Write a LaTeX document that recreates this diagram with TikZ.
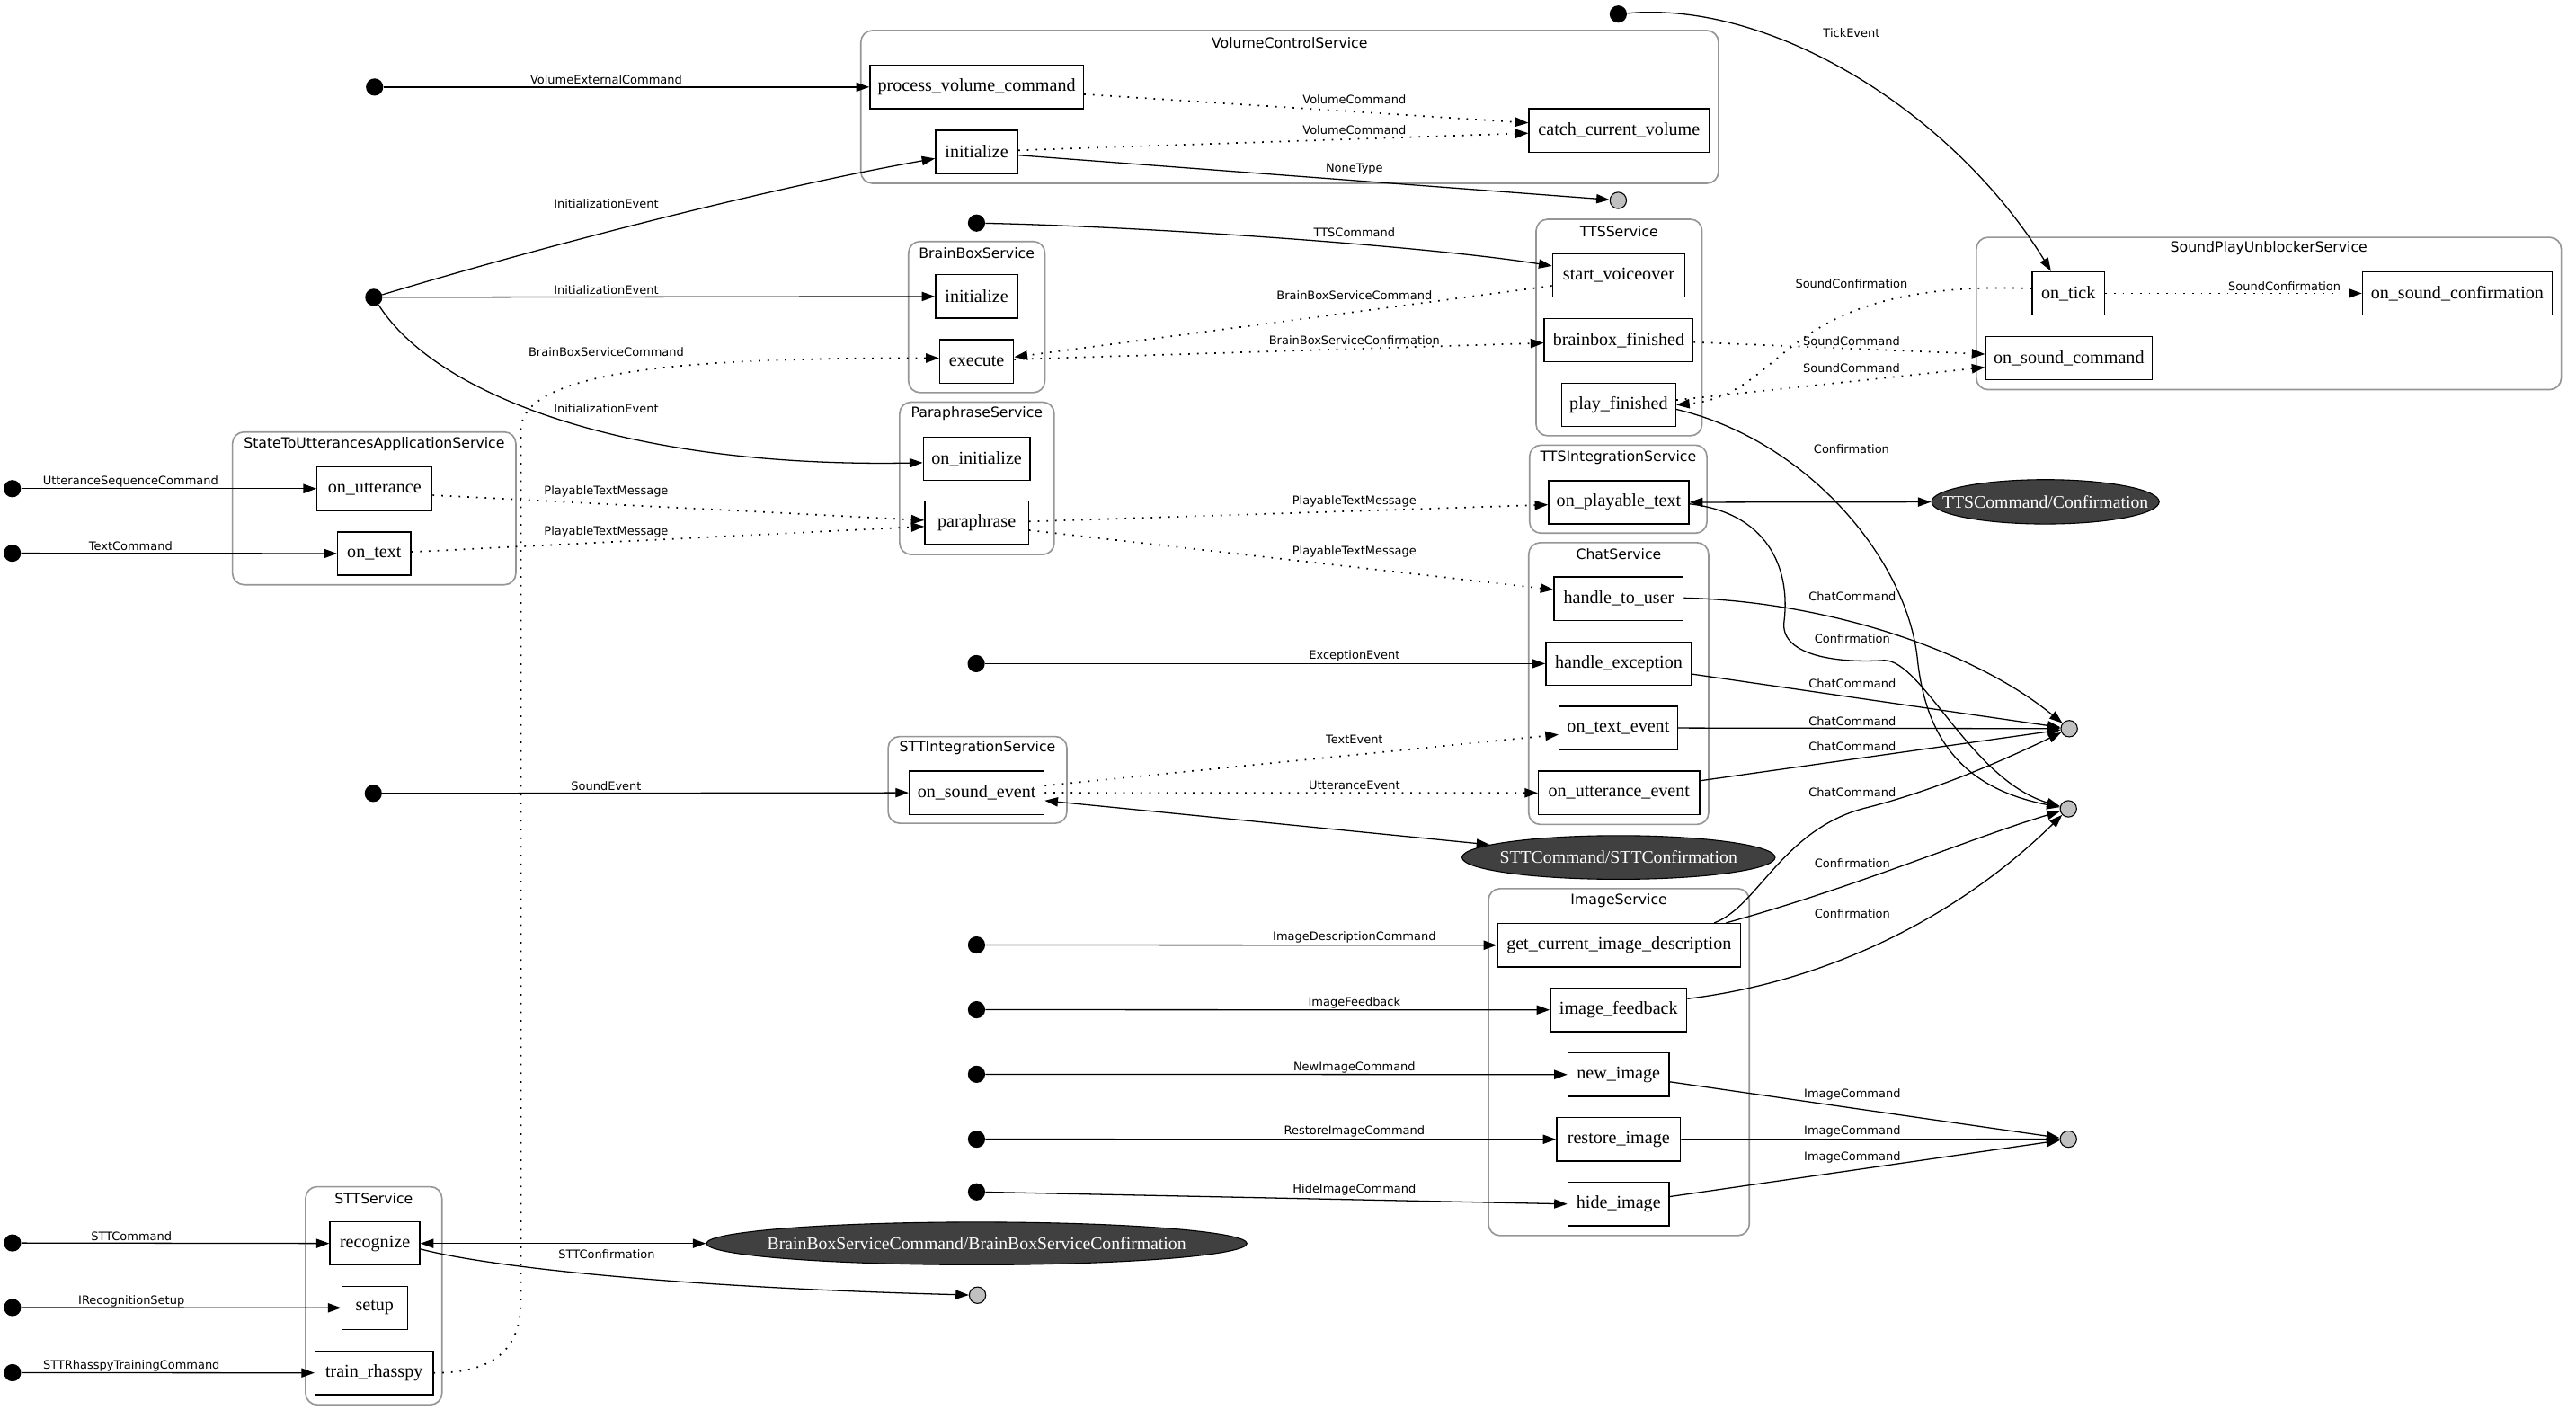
\documentclass[tikz,border=0pt]{standalone}
\usepackage{fontspec}
\usetikzlibrary{arrows.meta,shapes.geometric,calc}
\newfontfamily\LSerif{Liberation Serif}
\newfontfamily\DVS{DejaVu Sans}
\definecolor{clgray}{RGB}{150,150,150}
\definecolor{sinkgray}{RGB}{192,192,192}
\definecolor{ellfill}{RGB}{64,64,64}
\tikzset{
  fn/.style={draw, line width=0.75pt, rectangle, minimum height=26.4pt, inner sep=0pt, font=\LSerif\fontsize{11}{13}\selectfont},
  ell/.style={ellipse, draw=black, line width=0.6pt, fill=ellfill, text=white, inner sep=0pt, font=\LSerif\fontsize{10.8}{13}\selectfont},
  src/.style={circle, fill=black, inner sep=0pt, minimum size=10.5pt},
  sink/.style={circle, draw=black, fill=sinkgray, line width=0.6pt, inner sep=0pt, minimum size=10pt},
  lbl/.style={inner sep=0pt, font=\DVS\fontsize{7.1}{8}\selectfont},
  ctitle/.style={inner sep=0pt, font=\DVS\fontsize{8.6}{10}\selectfont},
  cluster/.style={draw=clgray, line width=0.9pt, rounded corners=7pt},
  arr/.style={-{Triangle[length=8pt,width=5.6pt]}, line width=0.7pt},
  dotarr/.style={arr, line width=0.95pt, dash pattern=on 0.95pt off 4.35pt},
  dbl/.style={{Triangle[length=8pt,width=5.6pt]}-{Triangle[length=8pt,width=5.6pt]}, line width=0.7pt},
}
\begin{document}
\begin{tikzpicture}[x=1pt,y=-1pt]
\useasboundingbox (0,0) rectangle (1568,863.8);
\fill[white] (0,0) rectangle (1568,863.8);
% clusters
\draw[cluster] (524,18.6) rectangle (1046,111.6);
\node[ctitle] (tVC) at (785,26) {VolumeControlService};
\draw[cluster] (553,147) rectangle (636,239);
\node[ctitle] (tBB) at (594.5,154) {BrainBoxService};
\draw[cluster] (547.6,244.8) rectangle (641.7,337.6);
\node[ctitle] (tPS) at (594.6,252) {ParaphraseService};
\draw[cluster] (935,133.5) rectangle (1036,265.3);
\node[ctitle] (tTTS) at (985.5,141) {TTSService};
\draw[cluster] (931,271) rectangle (1039,324.6);
\node[ctitle] (tTI) at (985,278.5) {TTSIntegrationService};
\draw[cluster] (930.5,330.4) rectangle (1040,501.9);
\node[ctitle] (tCS) at (985.3,337.5) {ChatService};
\draw[cluster] (540.6,448.4) rectangle (649.4,501.2);
\node[ctitle] (tSI) at (595,455.5) {STTIntegrationService};
\draw[cluster] (141.5,263) rectangle (314,356);
\node[ctitle] (tSU) at (227.8,270.2) {StateToUtterancesApplicationService};
\draw[cluster] (906,541) rectangle (1064.8,752.2);
\node[ctitle] (tIS) at (985.4,548.2) {ImageService};
\draw[cluster] (186,722.5) rectangle (269,855.2);
\node[ctitle] (tSS) at (227.5,729.6) {STTService};
\draw[cluster] (1203,144.5) rectangle (1559,237.2);
\node[ctitle] (tSP) at (1381,151.3) {SoundPlayUnblockerService};
% function nodes
\node[fn, minimum width=130pt] (pvc) at (594.5,53) {process\_volume\_command};
\node[fn, minimum width=50pt] (vinit) at (594.5,92.5) {initialize};
\node[fn, minimum width=109.6pt] (ccv) at (985.5,79.4) {catch\_current\_volume};
\node[fn, minimum width=50pt] (bbinit) at (594.5,180.5) {initialize};
\node[fn, minimum width=45pt] (exec) at (594.5,220) {execute};
\node[fn, minimum width=65pt] (oninit) at (594.5,279.2) {on\_initialize};
\node[fn, minimum width=63pt] (para) at (594.5,318.3) {paraphrase};
\node[fn, minimum width=80.6pt] (sv) at (985.3,167.5) {start\_voiceover};
\node[fn, minimum width=90.6pt] (bbf) at (985.3,207) {brainbox\_finished};
\node[fn, minimum width=69.4pt] (pf) at (985.3,246.5) {play\_finished};
\node[fn, minimum width=85.4pt] (opt) at (985.3,305.8) {on\_playable\_text};
\node[fn, minimum width=78.6pt] (htu) at (985.3,364.5) {handle\_to\_user};
\node[fn, minimum width=88.7pt] (hex) at (985.3,404) {handle\_exception};
\node[fn, minimum width=72pt] (ote) at (985,443.2) {on\_text\_event};
\node[fn, minimum width=98.1pt] (oue) at (985.5,482.7) {on\_utterance\_event};
\node[fn, minimum width=82.1pt] (ose) at (594.5,482.6) {on\_sound\_event};
\node[fn, minimum width=70pt] (ou) at (228,297.5) {on\_utterance};
\node[fn, minimum width=44.4pt] (ot) at (227.8,337) {on\_text};
\node[fn, minimum width=148.1pt] (gcid) at (985.5,575.4) {get\_current\_image\_description};
\node[fn, minimum width=83.1pt] (ifb) at (985.2,614.8) {image\_feedback};
\node[fn, minimum width=61.6pt] (ni) at (985.2,654.2) {new\_image};
\node[fn, minimum width=75.3pt] (ri) at (985.2,693.6) {restore\_image};
\node[fn, minimum width=61.6pt] (hi) at (985.2,733) {hide\_image};
\node[fn, minimum width=54.7pt] (rec) at (228.2,757) {recognize};
\node[fn, minimum width=40pt] (setup) at (228,796.2) {setup};
\node[fn, minimum width=71.8pt] (tr) at (227.7,835.8) {train\_rhasspy};
\node[fn, minimum width=44pt] (otick) at (1259,178.6) {on\_tick};
\node[fn, minimum width=115.3pt] (osc) at (1495.7,178.6) {on\_sound\_confirmation};
\node[fn, minimum width=101.4pt] (osco) at (1259.3,218) {on\_sound\_command};
% ellipses
\node[ell, minimum width=138.5pt, minimum height=27pt] (ttsE) at (1245,305.5) {\makebox[0pt]{TTSCommand/Confirmation}};
\node[ell, minimum width=190.6pt, minimum height=26.6pt] (sttE) at (985.2,522) {\makebox[0pt]{STTCommand/STTConfirmation}};
\node[ell, minimum width=329pt, minimum height=26pt] (bbE) at (594.5,757) {\makebox[0pt]{BrainBoxServiceCommand/BrainBoxServiceConfirmation}};
% sources
\node[src] (dVE) at (228,53) {};
\node[src] (dIE) at (227.5,181) {};
\node[src] (dTTS) at (594.4,135.8) {};
\node[src] (dTick) at (985,8.6) {};
\node[src] (dUSC) at (7.5,297.5) {};
\node[src] (dTC) at (7.5,336.8) {};
\node[src] (dEx) at (594.2,404) {};
\node[src] (dSE) at (227.2,483) {};
\node[src] (dIDC) at (594.4,575.3) {};
\node[src] (dIF) at (594.4,614.7) {};
\node[src] (dNIC) at (594.4,654) {};
\node[src] (dRIC) at (594.4,693.5) {};
\node[src] (dHIC) at (594.4,725.6) {};
\node[src] (dSTTC) at (7.6,756.7) {};
\node[src] (dIRS) at (7.6,796) {};
\node[src] (dSTR) at (7.6,835.7) {};
% sinks
\node[sink] (gNone) at (985,122) {};
\node[sink] (gChat) at (1259.5,443.6) {};
\node[sink] (gConf) at (1259,492.4) {};
\node[sink] (gImg) at (1259,693.5) {};
\node[sink] (gSTT) at (595,788.5) {};
% edges: volume
\draw[arr] (dVE) -- (pvc.west);
\node[lbl] (l1) at (369,48.3) {VolumeExternalCommand};
\draw[arr] (dIE) .. controls (330,150) and (470,114) .. ($(vinit.west)+(0,4)$);
\node[lbl] (l2) at (369,124) {InitializationEvent};
\draw[arr] (dIE) -- (bbinit.west);
\node[lbl] (l3) at (369,176.3) {InitializationEvent};
\draw[arr] (dIE) .. controls (265,240) and (380,285) .. ($(oninit.west)+(0,2.5)$);
\node[lbl] (l4) at (369,248.6) {InitializationEvent};
\draw[dotarr] ($(pvc.east)+(0,4.4)$) -- ($(ccv.west)+(0,-4.6)$);
\node[lbl] (l5) at (824.4,60.7) {VolumeCommand};
\draw[dotarr] ($(vinit.east)+(0,-1)$) -- ($(ccv.west)+(0,1.7)$);
\node[lbl] (l6) at (824.4,79) {VolumeCommand};
\draw[arr] ($(vinit.east)+(0,2)$) -- (gNone);
\node[lbl] (l7) at (824.4,102.7) {NoneType};
% TTS
\draw[arr] (dTTS) .. controls (700,138) and (870,150) .. ($(sv.west)+(0,-5.6)$);
\node[lbl] (l8) at (824.4,141.3) {TTSCommand};
\draw[dotarr] ($(sv.west)+(0,6.5)$) -- ($(exec.east)+(0,-2.6)$);
\node[lbl] (l9) at (824.4,180) {BrainBoxServiceCommand};
\draw[dotarr] ($(exec.east)+(0,-1.2)$) -- ($(bbf.west)+(0,1.8)$);
\node[lbl] (l10) at (824.4,207.3) {BrainBoxServiceConfirmation};
\draw[dotarr] (tr.east) .. controls (300,836) and (317,822) .. (317,792) -- (317,262) .. controls (317,222) and (440,218) .. ($(exec.west)+(0,-2)$);
\node[lbl] (l11) at (369,214.3) {BrainBoxServiceCommand};
% tick
\draw[arr] (dTick) .. controls (1080,0) and (1190,70) .. ($(otick.north)+(-10.6,0)$);
\node[lbl] (l12) at (1127,19.9) {TickEvent};
\draw[dotarr] (otick.east) -- (osc.west);
\node[lbl] (l13) at (1390.5,174.4) {SoundConfirmation};
\draw[dotarr] ($(otick.west)+(0,-3)$) .. controls (1080,170) and (1090,240) .. (pf.east);
\node[lbl] (l14) at (1127,172.7) {SoundConfirmation};
\draw[dotarr] ($(bbf.east)+(0,1.3)$) -- ($(osco.west)+(0,-2.4)$);
\node[lbl] (l15) at (1127,207.7) {SoundCommand};
\draw[dotarr] ($(pf.east)+(0,-3)$) -- ($(osco.west)+(0,5.6)$);
\node[lbl] (l16) at (1127,224.4) {SoundCommand};
\draw[arr] ($(pf.east)+(0,2.7)$) .. controls (1100,268) and (1160,340) .. (1167,400) .. controls (1172,450) and (1195,480) .. (gConf);
\node[lbl] (l17) at (1127,273.2) {Confirmation};
% state to utterances
\draw[arr] (dUSC) -- (ou.west);
\node[lbl] (l18) at (79.5,293) {UtteranceSequenceCommand};
\draw[arr] (dTC) -- (ot.west);
\node[lbl] (l19) at (79.5,332.4) {TextCommand};
\draw[dotarr] ($(ou.east)+(0,4)$) -- ($(para.west)+(0,-1.6)$);
\node[lbl] (l20) at (369,299) {PlayableTextMessage};
\draw[dotarr] ($(ot.east)+(0,-1)$) -- ($(para.west)+(0,2.2)$);
\node[lbl] (l21) at (369,324) {PlayableTextMessage};
\draw[dotarr] ($(para.east)+(0,-0.8)$) -- ($(opt.west)+(0,1.5)$);
\node[lbl] (l22) at (824.4,305.4) {PlayableTextMessage};
\draw[dotarr] ($(para.east)+(0,4.5)$) -- ($(htu.west)+(0,-5.5)$);
\node[lbl] (l23) at (824.4,336) {PlayableTextMessage};
% tts integration
\draw[dbl] (opt.east) -- (ttsE);
\draw[arr] ($(opt.east)+(0,1)$) .. controls (1075,312) and (1090,345) .. (1086,378) .. controls (1083,398) and (1115,404) .. (1147,402) .. controls (1170,402) and (1200,475) .. (gConf);
\node[lbl] (l24) at (1127.5,388.8) {Confirmation};
% chat
\draw[arr] (dEx) -- (hex.west);
\node[lbl] (l25) at (824.4,399.6) {ExceptionEvent};
\draw[arr] ($(htu.east)+(0,-0.5)$) .. controls (1110,366) and (1200,395) .. (gChat);
\node[lbl] (l26) at (1127.5,363.3) {ChatCommand};
\draw[arr] ($(hex.east)+(0,6.4)$) -- (gChat);
\node[lbl] (l27) at (1127.5,416) {ChatCommand};
\draw[arr] (ote.east) -- (gChat);
\node[lbl] (l28) at (1127.5,439) {ChatCommand};
\draw[arr] ($(oue.east)+(0,-7.4)$) -- (gChat);
\node[lbl] (l29) at (1127.5,454.3) {ChatCommand};
% stt integration
\draw[arr] (dSE) -- (ose.west);
\node[lbl] (l30) at (369,478.4) {SoundEvent};
\draw[dotarr] ($(ose.east)+(0,-4.3)$) -- ($(ote.west)+(0,4)$);
\node[lbl] (l31) at (824.4,450.3) {TextEvent};
\draw[dotarr] (ose.east) -- (oue.west);
\node[lbl] (l32) at (824.4,478.3) {UtteranceEvent};
\draw[dbl] ($(ose.east)+(0,4.8)$) -- (sttE);
% image
\draw[arr] (dIDC) -- (gcid.west);
\node[lbl] (l33) at (824.4,570.7) {ImageDescriptionCommand};
\draw[arr] (dIF) -- (ifb.west);
\node[lbl] (l34) at (824.4,610.3) {ImageFeedback};
\draw[arr] (dNIC) -- (ni.west);
\node[lbl] (l35) at (824.4,649.7) {NewImageCommand};
\draw[arr] (dRIC) -- (ri.west);
\node[lbl] (l36) at (824.4,689) {RestoreImageCommand};
\draw[arr] (dHIC) -- (hi.west);
\node[lbl] (l37) at (824.4,724.1) {HideImageCommand};
\draw[arr] ($(gcid.north east)+(-16.5,0)$) .. controls (1070,552) and (1085,505) .. (1135,492) .. controls (1175,482) and (1215,465) .. (gChat);
\node[lbl] (l38) at (1127.5,482.6) {ChatCommand};
\draw[arr] ($(gcid.north east)+(-9.3,0)$) .. controls (1130,540) and (1200,510) .. (gConf);
\node[lbl] (l39) at (1127.5,525.5) {Confirmation};
\draw[arr] ($(ifb.east)+(0,-6.8)$) .. controls (1110,598) and (1190,560) .. (gConf);
\node[lbl] (l40) at (1127.5,556.2) {Confirmation};
\draw[arr] ($(ni.east)+(0,4.4)$) -- (gImg);
\node[lbl] (l41) at (1127.5,666.5) {ImageCommand};
\draw[arr] (ri.east) -- (gImg);
\node[lbl] (l42) at (1127.5,689) {ImageCommand};
\draw[arr] ($(hi.east)+(0,-4.5)$) -- (gImg);
\node[lbl] (l43) at (1127.5,704.4) {ImageCommand};
% stt service
\draw[arr] (dSTTC) -- (rec.west);
\node[lbl] (l44) at (80,752.7) {STTCommand};
\draw[arr] (dIRS) -- (setup.west);
\node[lbl] (l45) at (80,792) {IRecognitionSetup};
\draw[arr] (dSTR) -- (tr.west);
\node[lbl] (l46) at (80,831.5) {STTRhasspyTrainingCommand};
\draw[dbl] (rec.east) -- (bbE);
\draw[arr] ($(rec.east)+(0,3.4)$) .. controls (300,772) and (420,784) .. (gSTT);
\node[lbl] (l47) at (369.3,763.7) {STTConfirmation};
\end{tikzpicture}
\end{document}
